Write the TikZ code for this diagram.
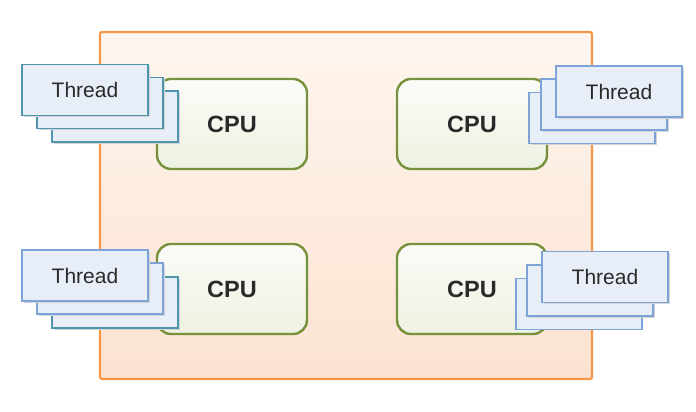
\documentclass[tikz,border=0pt]{standalone}
\usepackage{fontspec}
\setmainfont{Liberation Sans}
\usetikzlibrary{shadows}

\definecolor{boardline}{HTML}{F79646}
\definecolor{boardtop}{HTML}{FEF6EF}
\definecolor{boardbottom}{HTML}{FCE2D0}
\definecolor{cpuline}{HTML}{76923C}
\definecolor{cputop}{HTML}{FBFCF8}
\definecolor{cpubottom}{HTML}{EDF2E1}
\definecolor{threadfill}{HTML}{E8EEF8}
\definecolor{blueline}{HTML}{7EA3D9}
\definecolor{tealline}{HTML}{4E95AE}
\definecolor{textgray}{HTML}{2A2A2A}
\definecolor{shade}{HTML}{D4D4D4}

\begin{document}
\begin{tikzpicture}[
  x=1pt, y=-1pt,
  board/.style={draw=boardline, line width=2.2pt, rounded corners=2pt,
    top color=boardtop, bottom color=boardbottom,
    minimum width=492pt, minimum height=347pt},
  cpu/.style={draw=cpuline, line width=2.4pt, rounded corners=14pt,
    top color=cputop, bottom color=cpubottom,
    minimum width=150pt, minimum height=90pt, text=textgray,
    font=\fontsize{23.5}{26}\selectfont\bfseries},
  shadowed/.style={drop shadow={fill=shade, opacity=1,
    shadow xshift=1.6pt, shadow yshift=-1.6pt}},
  thread/.style={draw=#1, line width=1.4pt, fill=threadfill,
    minimum width=126pt, minimum height=51pt, text=textgray,
    font=\fontsize{21}{24}\selectfont},
  thread/.default=blueline
]
\useasboundingbox (0,0) rectangle (696,412);

% board
\node[board] (board) at (346,205.5) {};

% cpus
\node[cpu] (cpu1) at (232,124) {CPU};
\node[cpu] (cpu2) at (472,124) {CPU};
\node[cpu] (cpu3) at (232,289) {CPU};
\node[cpu] (cpu4) at (472,289) {CPU};

% top left
\node[thread=tealline, shadowed] (t1c) at (115,116.5) {};
\node[thread=tealline, shadowed] (t1b) at (100,103) {};
\node[thread=tealline, shadowed] (t1a) at (85,90) {Thread};

% top right
\node[thread, shadowed] (t2c) at (592,118) {};
\node[thread, shadowed] (t2b) at (604,104.5) {};
\node[thread, shadowed] (t2a) at (619,91.5) {Thread};

% bottom left
\node[thread=tealline, shadowed] (t3c) at (115,302.5) {};
\node[thread, shadowed] (t3b) at (100,288.5) {};
\node[thread, shadowed] (t3a) at (85,275.5) {Thread};

% bottom right
\node[thread] (t4c) at (579,304) {};
\node[thread, shadowed] (t4b) at (590,290.5) {};
\node[thread, shadowed] (t4a) at (605,277) {Thread};

\end{tikzpicture}
\end{document}
